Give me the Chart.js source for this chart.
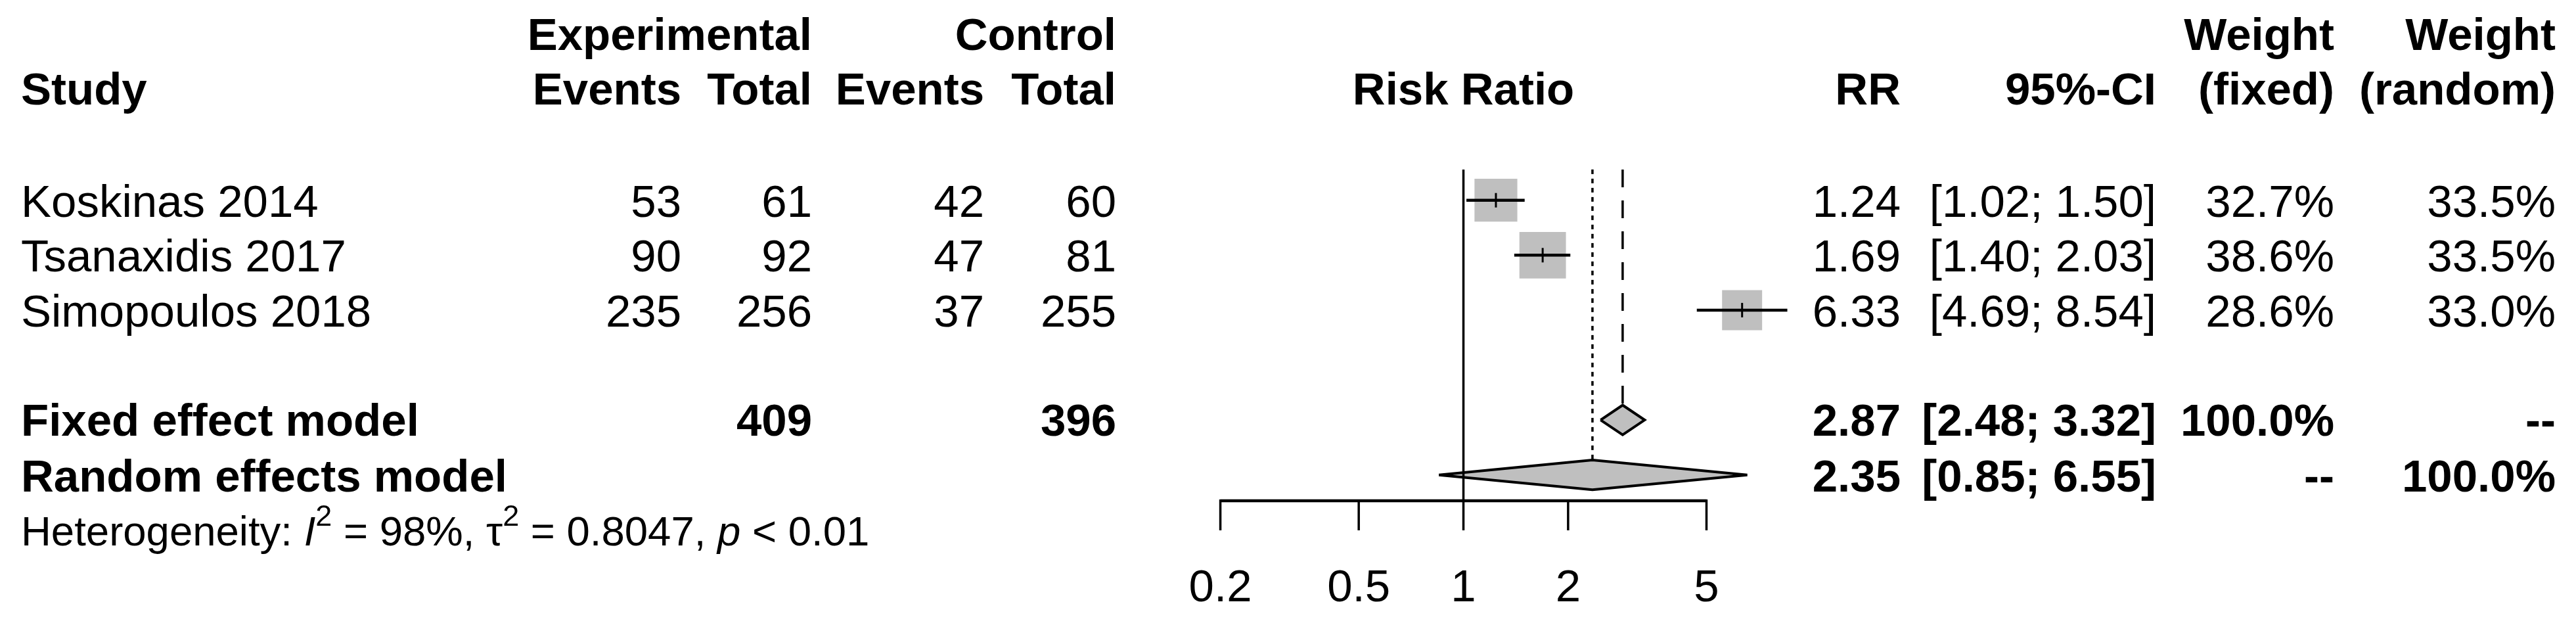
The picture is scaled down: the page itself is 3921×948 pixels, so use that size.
<!DOCTYPE html>
<html>
<head>
<meta charset="utf-8">
<script src="https://cdn.jsdelivr.net/npm/chart.js@4.4.1/dist/chart.umd.min.js"></script>
<style>
html, body { margin: 0; padding: 0; background: #fff; }
#wrap { width: 3921px; height: 948px; position: relative; }
</style>
</head>
<body>
<div id="wrap"><canvas id="forest"></canvas></div>
<script>
// data
const studies = ['Koskinas 2014', 'Tsanaxidis 2017', 'Simopoulos 2018'];
const expEvents = [53, 90, 235];
const expTotal = [61, 92, 256];
const ctrlEvents = [42, 47, 37];
const ctrlTotal = [60, 81, 255];
const rr = [1.24, 1.69, 6.33];
const ciLow = [1.02, 1.40, 4.69];
const ciHigh = [1.50, 2.03, 8.54];
const weightFixed = [32.7, 38.6, 28.6];
const weightRandom = [33.5, 33.5, 33.0];

const fixedModel = [2.87, 2.48, 3.32];   // estimate, lower, upper
const randomModel = [2.35, 0.85, 6.55];
const totals = [409, 396];
const axisTicks = [0.2, 0.5, 1, 2, 5];
const hetStats = ['98%', '0.8047', '< 0.01'];

// layout (row units on the y scale)
const FIXED_ROW = 4;
const RANDOM_ROW = 5;
const TOP_ROW = -0.56;
const AXIS_ROW = 5.47;
const DIAMOND_H = 0.27;
const FAMILY = '"Liberation Sans", Arial, sans-serif';
const FS = 69;
const GREY = '#bfbfbf';

const datasets = [];

// vertical reference lines (drawn under everything except the null line)
datasets.push({
    data: [{x: fixedModel[0], y: TOP_ROW}, {x: fixedModel[0], y: FIXED_ROW - DIAMOND_H}],
    showLine: true, borderColor: '#000', borderWidth: 3.5, borderDash: [27, 20],
    pointRadius: 0, order: 10
});
datasets.push({
    data: [{x: randomModel[0], y: TOP_ROW}, {x: randomModel[0], y: RANDOM_ROW - DIAMOND_H}],
    showLine: true, borderColor: '#000', borderWidth: 3.5, borderDash: [7, 7],
    pointRadius: 0, order: 10
});

// study squares, area by fixed weight
datasets.push({
    data: rr.map((v, i) => ({x: v, y: i})),
    pointStyle: 'rect',
    pointRadius: weightFixed.map(w => 11.4 * Math.sqrt(w) / Math.SQRT2),
    backgroundColor: GREY, borderWidth: 0, order: 8
});

// confidence intervals
rr.forEach((v, i) => {
    datasets.push({
        data: [{x: ciLow[i], y: i}, {x: ciHigh[i], y: i}],
        showLine: true, borderColor: '#000', borderWidth: 4.5,
        pointRadius: 0, order: 6
    });
});

// small vertical mark at the estimate
datasets.push({
    data: rr.map((v, i) => ({x: v, y: i})),
    pointStyle: 'line', rotation: 90, pointRadius: 11,
    borderColor: '#000', borderWidth: 3, order: 5
});

// summary diamonds
const diamond = (m, row) => [
    {x: m[1], y: row}, {x: m[0], y: row - DIAMOND_H},
    {x: m[2], y: row}, {x: m[0], y: row + DIAMOND_H}, {x: m[1], y: row}
];
[[fixedModel, FIXED_ROW], [randomModel, RANDOM_ROW]].forEach(([m, row]) => {
    datasets.push({
        data: diamond(m, row),
        showLine: true, fill: 'shape', tension: 0,
        backgroundColor: GREY, borderColor: '#000', borderWidth: 4,
        borderJoinStyle: 'miter', pointRadius: 0, order: 4
    });
});

// line of no effect
datasets.push({
    data: [{x: 1, y: TOP_ROW}, {x: 1, y: AXIS_ROW}],
    showLine: true, borderColor: '#000', borderWidth: 3.5,
    pointRadius: 0, order: 1
});

const tablePlugin = {
    id: 'forestTable',
    afterDraw(chart) {
        const ctx = chart.ctx;
        const xs = chart.scales.x;
        const ys = chart.scales.y;
        const base = row => ys.getPixelForValue(row) + 25;

        const txt = (s, x, row, align, bold, size) => {
            ctx.font = (bold ? 'bold ' : '') + (size || FS) + 'px ' + FAMILY;
            ctx.textAlign = align;
            ctx.textBaseline = 'alphabetic';
            ctx.fillStyle = '#000';
            ctx.fillText(s, x, base(row));
        };

        ctx.save();

        // headers
        const h1 = -3.04, h2 = -2.04;
        txt('Experimental', 1236, h1, 'right', true);
        txt('Control', 1699, h1, 'right', true);
        txt('Weight', 3553, h1, 'right', true);
        txt('Weight', 3890, h1, 'right', true);
        txt('Study', 32, h2, 'left', true);
        txt('Events', 1037, h2, 'right', true);
        txt('Total', 1236, h2, 'right', true);
        txt('Events', 1498, h2, 'right', true);
        txt('Total', 1699, h2, 'right', true);
        txt('Risk Ratio', xs.getPixelForValue(1), h2, 'center', true);
        txt('RR', 2893, h2, 'right', true);
        txt('95%-CI', 3282, h2, 'right', true);
        txt('(fixed)', 3553, h2, 'right', true);
        txt('(random)', 3890, h2, 'right', true);

        // study rows
        studies.forEach((s, i) => {
            txt(s, 32, i, 'left', false);
            txt(String(expEvents[i]), 1037, i, 'right', false);
            txt(String(expTotal[i]), 1236, i, 'right', false);
            txt(String(ctrlEvents[i]), 1498, i, 'right', false);
            txt(String(ctrlTotal[i]), 1699, i, 'right', false);
            txt(rr[i].toFixed(2), 2893, i, 'right', false);
            txt('[' + ciLow[i].toFixed(2) + '; ' + ciHigh[i].toFixed(2) + ']', 3282, i, 'right', false);
            txt(weightFixed[i].toFixed(1) + '%', 3553, i, 'right', false);
            txt(weightRandom[i].toFixed(1) + '%', 3890, i, 'right', false);
        });

        // summary rows
        txt('Fixed effect model', 32, FIXED_ROW - 0.01, 'left', true);
        txt(String(totals[0]), 1236, FIXED_ROW - 0.01, 'right', true);
        txt(String(totals[1]), 1699, FIXED_ROW - 0.01, 'right', true);
        txt(fixedModel[0].toFixed(2), 2893, FIXED_ROW - 0.01, 'right', true);
        txt('[' + fixedModel[1].toFixed(2) + '; ' + fixedModel[2].toFixed(2) + ']', 3282, FIXED_ROW - 0.01, 'right', true);
        txt('100.0%', 3553, FIXED_ROW - 0.01, 'right', true);
        txt('--', 3890, FIXED_ROW - 0.01, 'right', true);

        txt('Random effects model', 32, RANDOM_ROW, 'left', true);
        txt(randomModel[0].toFixed(2), 2893, RANDOM_ROW, 'right', true);
        txt('[' + randomModel[1].toFixed(2) + '; ' + randomModel[2].toFixed(2) + ']', 3282, RANDOM_ROW, 'right', true);
        txt('--', 3553, RANDOM_ROW, 'right', true);
        txt('100.0%', 3890, RANDOM_ROW, 'right', true);

        // heterogeneity line with italics and superscripts
        const hs = 63.5, sup = 45;
        const hb = base(RANDOM_ROW) + 82;
        let hx = 32;
        const piece = (s, style, size, lift) => {
            ctx.font = style + size + 'px ' + FAMILY;
            ctx.textAlign = 'left';
            ctx.fillText(s, hx, hb - (lift || 0));
            hx += ctx.measureText(s).width;
        };
        piece('Heterogeneity: ', '', hs);
        piece('I', 'italic ', hs);
        piece('2', '', sup, 30);
        piece(' = ' + hetStats[0] + ', ', '', hs);
        piece('\u03c4', '', hs);
        piece('2', '', sup, 30);
        piece(' = ' + hetStats[1] + ', ', '', hs);
        piece('p', 'italic ', hs);
        piece(' ' + hetStats[2], '', hs);

        // x axis
        const ay = ys.getPixelForValue(AXIS_ROW);
        ctx.strokeStyle = '#000';
        ctx.lineWidth = 4.5;
        ctx.lineCap = 'butt';
        ctx.beginPath();
        ctx.moveTo(xs.getPixelForValue(axisTicks[0]), ay);
        ctx.lineTo(xs.getPixelForValue(axisTicks[axisTicks.length - 1]), ay);
        ctx.stroke();
        ctx.lineWidth = 3.5;
        axisTicks.forEach(t => {
            const px = xs.getPixelForValue(t);
            ctx.beginPath();
            ctx.moveTo(px, ay - 2);
            ctx.lineTo(px, ay + 45);
            ctx.stroke();
            ctx.font = FS + 'px ' + FAMILY;
            ctx.textAlign = 'center';
            ctx.fillText(String(t), px, 915);
        });

        ctx.restore();
    }
};

const canvas = document.getElementById('forest');
const chart = new Chart(canvas.getContext('2d'), {
    type: 'scatter',
    data: { datasets: datasets },
    options: {
        responsive: true,
        maintainAspectRatio: false,
        animation: false,
        layout: { padding: 0, autoPadding: false },
        plugins: {
            legend: { display: false },
            tooltip: { enabled: false }
        },
        scales: {
            x: { type: 'logarithmic', display: false, bounds: 'data', min: 6.1883e-5, max: 1583 },
            y: { type: 'linear', display: false, reverse: true, bounds: 'data', min: -3.6447, max: 7.695 }
        }
    },
    plugins: [tablePlugin]
});
</script>
</body>
</html>
